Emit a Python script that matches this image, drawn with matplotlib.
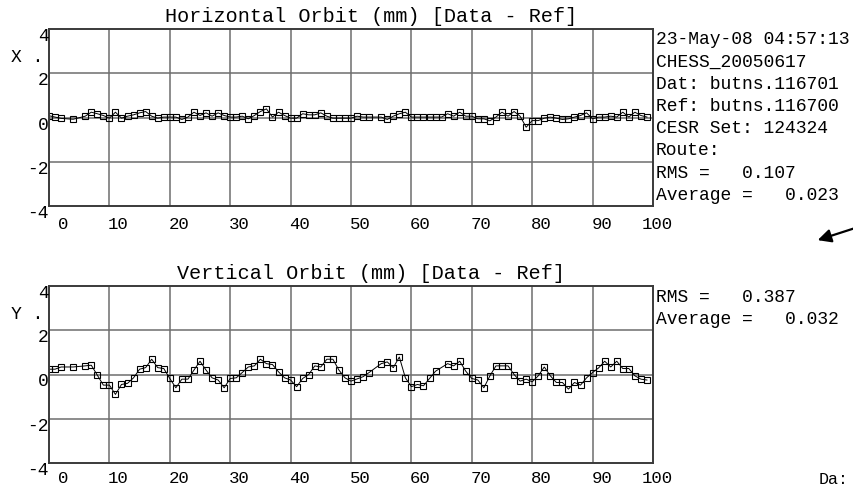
import matplotlib.pyplot as plt
from matplotlib import transforms

plt.rcParams['font.family'] = ['Liberation Mono', 'DejaVu Sans Mono']

W, H = 854, 488

# horizontal orbit difference per BPM (mm)
bpm_h = [0, 1, 2, 4, 6, 7, 8, 9, 10, 11, 12, 13, 14, 15, 16, 17, 18, 19,
         20, 21, 22, 23, 24, 25, 26, 27, 28, 29, 30, 31, 32, 33, 34, 35, 36,
         37, 38, 39, 40, 41, 42, 43, 44, 45, 46, 47, 48, 49, 50, 51, 52, 53,
         55, 56, 57, 58, 59, 60, 61, 62, 63, 64, 65, 66, 67, 68, 69, 70, 71,
         72, 73, 74, 75, 76, 77, 78, 79, 80, 81, 82, 83, 84, 85, 86, 87, 88,
         89, 90, 91, 92, 93, 94, 95, 96, 97, 98, 99]
orbit_h = [0.08, 0.02, -0.04, -0.08, 0.06, 0.24, 0.17, 0.09, -0.03, 0.24,
           -0.03, 0.06, 0.12, 0.21, 0.27, 0.06, -0.03, 0.02, 0.02, 0.02,
           -0.09, 0.02, 0.24, 0.09, 0.21, 0.06, 0.21, 0.09, 0.02, 0.02,
           0.06, -0.06, 0.09, 0.27, 0.39, 0.02, 0.24, 0.09, -0.03, -0.03,
           0.17, 0.12, 0.12, 0.21, 0.06, -0.03, -0.03, -0.03, -0.03, 0.06,
           0.02, 0.02, 0.02, -0.09, 0.06, 0.17, 0.24, 0.02, 0.02, 0.02,
           0.02, 0.02, 0.02, 0.17, 0.06, 0.24, 0.06, 0.06, -0.06, -0.06,
           -0.15, 0.02, 0.24, 0.06, 0.27, 0.06, -0.44, -0.14, -0.14, -0.03,
           0.02, -0.03, -0.09, -0.06, 0.02, 0.09, 0.21, -0.06, 0.02, 0.02,
           0.06, 0.02, 0.24, 0.02, 0.24, 0.09, 0.02]

# vertical orbit difference per BPM (mm)
bpm_v = [0, 1, 2, 4, 6, 7, 8, 9, 10, 11, 12, 13, 14, 15, 16, 17, 18, 19,
         20, 21, 22, 23, 24, 25, 26, 27, 28, 29, 30, 31, 32, 33, 34, 35, 36,
         37, 38, 39, 40, 41, 42, 43, 44, 45, 46, 47, 48, 49, 50, 51, 52, 53,
         55, 56, 57, 58, 59, 60, 61, 62, 63, 64, 66, 67, 68, 69, 70, 71, 72,
         73, 74, 75, 76, 77, 78, 79, 80, 81, 82, 83, 84, 85, 86, 87, 88, 89,
         90, 91, 92, 93, 94, 95, 96, 97, 98, 99]
orbit_v = [0.24, 0.24, 0.34, 0.34, 0.39, 0.42, -0.03, -0.48, -0.48, -0.9,
           -0.45, -0.4, -0.15, 0.24, 0.31, 0.69, 0.31, 0.27, -0.18, -0.6,
           -0.21, -0.21, 0.2, 0.6, 0.2, -0.15, -0.25, -0.6, -0.18, -0.15,
           0.09, 0.34, 0.39, 0.69, 0.49, 0.45, 0.12, -0.15, -0.25, -0.55,
           -0.18, 0.0, 0.39, 0.34, 0.69, 0.69, 0.2, -0.15, -0.3, -0.2,
           -0.1, 0.09, 0.49, 0.57, 0.31, 0.79, -0.15, -0.55, -0.45, -0.51,
           -0.18, 0.15, 0.49, 0.39, 0.6, 0.15, -0.18, -0.25, -0.6, -0.06,
           0.39, 0.39, 0.39, 0.0, -0.3, -0.21, -0.33, -0.06, 0.34, -0.06,
           -0.36, -0.36, -0.66, -0.36, -0.48, -0.15, 0.09, 0.3, 0.6, 0.34,
           0.6, 0.27, 0.27, -0.06, -0.21, -0.25]

x_ticks = [0, 10, 20, 30, 40, 50, 60, 70, 80, 90, 100]
y_ticks = [-4, -2, 0, 2, 4]

info_h = ['23-May-08 04:57:13', 'CHESS_20050617', 'Dat: butns.116701',
          'Ref: butns.116700', 'CESR Set: 124324', 'Route:',
          'RMS =   0.107', 'Average =   0.023']
info_v = ['RMS =   0.387', 'Average =   0.032']

fig = plt.figure(figsize=(W / 100, H / 100), dpi=100)


def fx(px):
    return px / W


def fy(py):
    return 1 - py / H


def orbit_panel(top, x, y, title, name, info, drop):
    ax = fig.add_axes([fx(49), fy(top + 177), fx(604), 177 / H])
    ax.plot(x, y, color='black', lw=0.7, marker='s', ms=5,
            mfc='none', mec='black', mew=0.8)
    ax.set_xlim(0, 100)
    ax.set_ylim(-4, 4)
    ax.set_xticks(x_ticks[1:-1])
    ax.set_yticks(y_ticks[1:-1])
    ax.grid(True, color='#6e6e6e', lw=1.1)
    ax.tick_params(length=0, labelbottom=False, labelleft=False)
    for s in ax.spines.values():
        s.set_color('#3a3a3a')
        s.set_linewidth(1.4)

    # tick labels: x right-aligned a bit past each grid line, y hanging below
    off_x = transforms.ScaledTranslation(19.5 / 100, -drop / 100, fig.dpi_scale_trans)
    tx = transforms.blended_transform_factory(ax.transData, ax.transAxes) + off_x
    for t in x_ticks:
        ax.text(t, 0, str(t), transform=tx, ha='right', va='baseline',
                fontsize=12.5, clip_on=False)
    off_y = transforms.ScaledTranslation(0, 1 / 100, fig.dpi_scale_trans)
    ty = transforms.blended_transform_factory(ax.transAxes, ax.transData) + off_y
    for t in y_ticks:
        ax.text(0, t, str(t), transform=ty, ha='right', va='top',
                fontsize=13, clip_on=False)

    fig.text(fx(371), fy(top - 7), title, ha='center', va='baseline', fontsize=14.5)
    fig.text(fx(11), fy(top + 33), name + ' .', ha='left', va='baseline', fontsize=13)
    for i, line in enumerate(info):
        fig.text(fx(656), fy(top + 15.5 + 22.2 * i), line, ha='left',
                 va='baseline', fontsize=13)
    return ax


orbit_panel(29, bpm_h, orbit_h, 'Horizontal Orbit (mm) [Data - Ref]', 'X', info_h, 23)
orbit_panel(286, bpm_v, orbit_v, 'Vertical Orbit (mm) [Data - Ref]', 'Y', info_v, 20)

fig.text(fx(819), fy(484), 'Da:', ha='left', va='baseline', fontsize=12)
fig.add_artist(plt.Annotation('', xy=(fx(815), fy(241)), xytext=(fx(880), fy(220)),
                              xycoords='figure fraction', textcoords='figure fraction',
                              arrowprops=dict(arrowstyle='-|>', color='black', lw=1.6,
                                              mutation_scale=20)))

fig.savefig('out.png', dpi=100)
